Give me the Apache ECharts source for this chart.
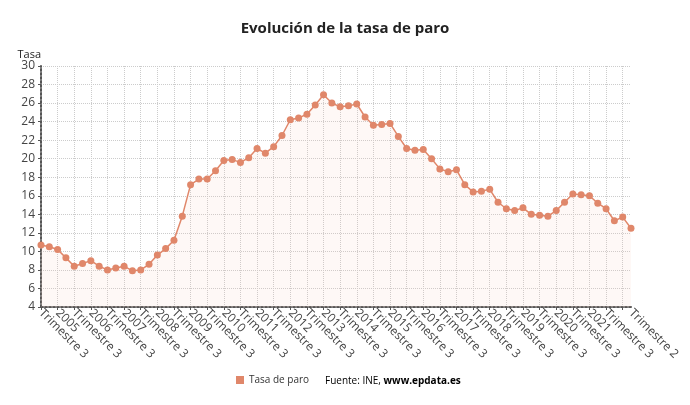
<!DOCTYPE html>
<html>
<head>
<meta charset="utf-8">
<script src="https://cdn.jsdelivr.net/npm/echarts@6/dist/echarts.min.js"></script>
<style>
  html, body { margin: 0; padding: 0; background: #fff; }
  #chart { width: 690px; height: 405px; }
</style>
</head>
<body>
<div id="chart"></div>
<script>
// trimestres desde 2004 T3 hasta 2022 T2
const categories = [
  '2004 T3', '2004 T4',
  '2005 T1', '2005 T2', '2005 T3', '2005 T4',
  '2006 T1', '2006 T2', '2006 T3', '2006 T4',
  '2007 T1', '2007 T2', '2007 T3', '2007 T4',
  '2008 T1', '2008 T2', '2008 T3', '2008 T4',
  '2009 T1', '2009 T2', '2009 T3', '2009 T4',
  '2010 T1', '2010 T2', '2010 T3', '2010 T4',
  '2011 T1', '2011 T2', '2011 T3', '2011 T4',
  '2012 T1', '2012 T2', '2012 T3', '2012 T4',
  '2013 T1', '2013 T2', '2013 T3', '2013 T4',
  '2014 T1', '2014 T2', '2014 T3', '2014 T4',
  '2015 T1', '2015 T2', '2015 T3', '2015 T4',
  '2016 T1', '2016 T2', '2016 T3', '2016 T4',
  '2017 T1', '2017 T2', '2017 T3', '2017 T4',
  '2018 T1', '2018 T2', '2018 T3', '2018 T4',
  '2019 T1', '2019 T2', '2019 T3', '2019 T4',
  '2020 T1', '2020 T2', '2020 T3', '2020 T4',
  '2021 T1', '2021 T2', '2021 T3', '2021 T4',
  '2022 T1', '2022 T2'
]

const tasaParo = [
  10.7, 10.5,
  10.2, 9.3, 8.4, 8.7,
  9.0, 8.4, 8.0, 8.2,
  8.4, 7.9, 8.0, 8.6,
  9.6, 10.3, 11.2, 13.8,
  17.2, 17.8, 17.8, 18.7,
  19.8, 19.9, 19.6, 20.1,
  21.1, 20.6, 21.3, 22.5,
  24.2, 24.4, 24.8, 25.8,
  26.9, 26.0, 25.6, 25.7,
  25.9, 24.5, 23.6, 23.7,
  23.8, 22.4, 21.1, 20.9,
  21.0, 20.0, 18.9, 18.6,
  18.8, 17.2, 16.4, 16.5,
  16.7, 15.3, 14.6, 14.4,
  14.7, 14.0, 13.9, 13.8,
  14.4, 15.3, 16.2, 16.1,
  16.0, 15.2, 14.6, 13.3,
  13.7, 12.5
]

const yTicks = { min: 4, max: 30, interval: 2 }

const last = categories.length - 1
const showLabel = (i) => (i % 2 === 0 && i !== last - 1) || i === last
const showGrid = (i) => i % 2 === 0

// etiqueta que se ve: año en T1, "Trimestre N" en el resto; vacía si no toca
const quarterLabel = (cat, i) => {
  if (!showLabel(i)) return ''
  const [year, q] = cat.split(' ')
  return q === 'T1' ? year : 'Trimestre ' + q.slice(1)
}

const chart = echarts.init(document.getElementById('chart'), null, { renderer: 'canvas' })

chart.setOption({
  animation: false,
  textStyle: { fontFamily: 'Open Sans' },
  title: {
    text: 'Evolución de la tasa de paro',
    left: 'center',
    top: 16,
    textStyle: { fontSize: 15, fontWeight: 'bold', color: '#222', fontFamily: 'Open Sans' }
  },
  grid: { left: 41, right: 59, top: 66, bottom: 98 },
  legend: {
    bottom: 20,
    left: 236,
    padding: 0,
    itemWidth: 8,
    itemHeight: 8,
    icon: 'rect',
    itemGap: 5,
    textStyle: { fontSize: 10, color: '#333' },
    data: [{ name: 'Tasa de paro', itemStyle: { color: '#e0876a', borderWidth: 0 } }]
  },
  graphic: [{
    type: 'text',
    left: 325,
    bottom: 19,
    style: {
      text: '{a|Fuente: INE, }{b|www.epdata.es}',
      rich: {
        a: { fontSize: 10, color: '#333', fontFamily: 'Open Sans' },
        b: { fontSize: 10, color: '#222', fontWeight: 'bold', fontFamily: 'Open Sans' }
      }
    }
  }],
  xAxis: {
    type: 'category',
    data: categories,
    boundaryGap: false,
    axisLine: { lineStyle: { color: '#555', type: 'dotted', width: 2 } },
    axisTick: { show: true, interval: showGrid, length: 3, lineStyle: { color: '#555' } },
    splitLine: { show: true, interval: showGrid, lineStyle: { color: '#ccc', type: 'dotted' } },
    axisLabel: {
      interval: 0,
      showMinLabel: true,
      showMaxLabel: true,
      hideOverlap: false,
      rotate: -45,
      margin: 4,
      fontSize: 12,
      color: '#444',
      formatter: quarterLabel
    }
  },
  yAxis: {
    type: 'value',
    name: 'Tasa',
    nameLocation: 'end',
    nameGap: 2,
    nameTextStyle: { align: 'right', padding: [0, 0, 0, 0], fontSize: 11, color: '#222' },
    min: yTicks.min,
    max: yTicks.max,
    interval: yTicks.interval,
    axisLine: { show: true, lineStyle: { color: '#555', type: 'dotted', width: 2 } },
    axisTick: { show: true, length: 3, lineStyle: { color: '#555' } },
    splitLine: { lineStyle: { color: '#ccc', type: 'dotted' } },
    axisLabel: { fontSize: 12, color: '#444', margin: 6 }
  },
  series: [{
    name: 'Tasa de paro',
    type: 'line',
    data: tasaParo,
    symbol: 'circle',
    symbolSize: 7,
    showAllSymbol: true,
    lineStyle: { color: '#e0876a', width: 1.5 },
    itemStyle: { color: '#e0876a' },
    areaStyle: { color: 'rgba(244, 196, 184, 0.18)' }
  }]
})
</script>
</body>
</html>
